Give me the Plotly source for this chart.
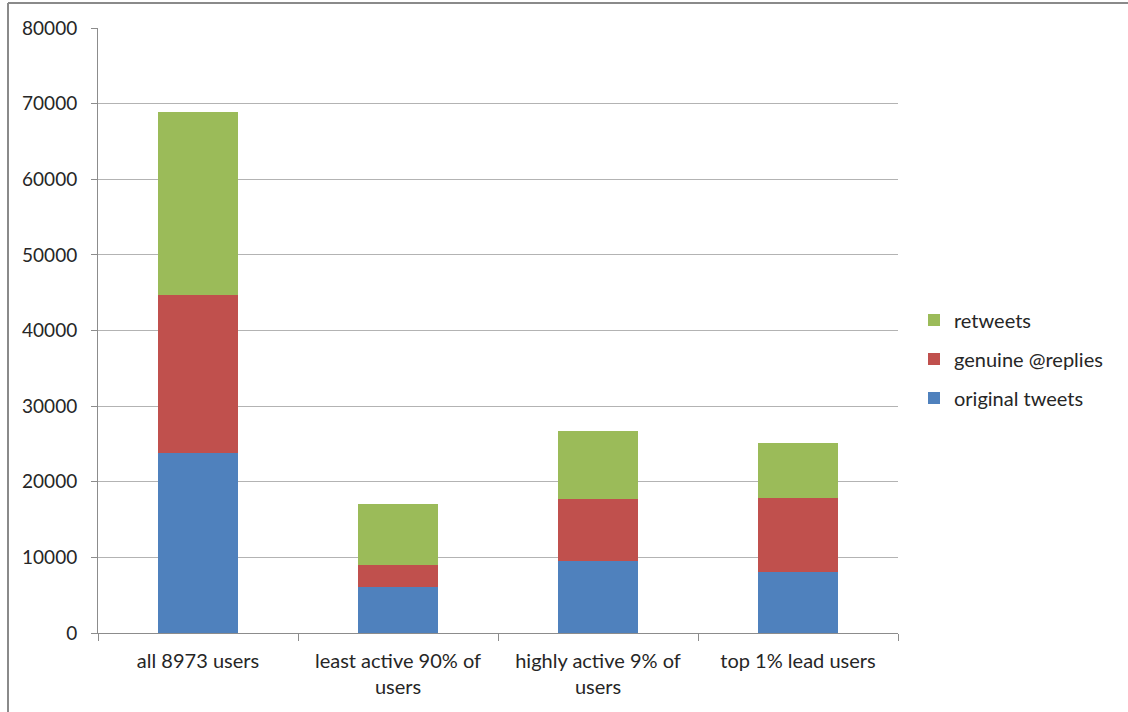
import plotly.graph_objects as go

categories = ["all 8973 users", "least active 90% of<br>users", "highly active 9% of<br>users", "top 1% lead users"]
original_tweets = [23800, 6100, 9500, 8100]
genuine_replies = [20850, 2900, 8200, 9700]
retweets = [24300, 8000, 9050, 7300]
y_ticks = [0, 10000, 20000, 30000, 40000, 50000, 60000, 70000, 80000]

FONT = "Lato, 'Open Sans', sans-serif"
TXT = "#262626"

fig = go.Figure()
series = [
    ("original tweets", original_tweets, "#4f81bd", 3),
    ("genuine @replies", genuine_replies, "#c0504d", 2),
    ("retweets", retweets, "#9bbb59", 1),
]
for name, vals, col, rank in series:
    fig.add_trace(go.Bar(
        x=categories, y=vals, name=name, legendgroup=name, legendrank=rank,
        marker=dict(color=col, line=dict(width=0)),
    ))

fig.update_layout(
    width=1128, height=712,
    barmode="stack", bargap=0.6,
    paper_bgcolor="white", plot_bgcolor="white",
    margin=dict(l=98, r=230, t=28, b=79, autoexpand=False),
    font=dict(family=FONT, size=18, color=TXT),
    showlegend=True,
    legend=dict(
        traceorder="grouped", tracegroupgap=10,
        x=1.02, xanchor="left", y=0.453, yanchor="middle",
        font=dict(family=FONT, size=20, color=TXT),
        bgcolor="rgba(0,0,0,0)",
    ),
    xaxis=dict(
        showline=True, linecolor="#8c8c8c", linewidth=1,
        ticks="outside", tickson="boundaries", ticklen=7, tickcolor="#8c8c8c",
        tickfont=dict(family=FONT, size=20, color=TXT),
        ticklabelstandoff=10,
        showgrid=False,
    ),
    yaxis=dict(
        range=[0, 80000], tickvals=y_ticks, ticktext=[str(v) for v in y_ticks],
        showline=True, linecolor="#8c8c8c", linewidth=1,
        ticks="outside", ticklen=6, tickcolor="#8c8c8c",
        showgrid=True, gridcolor="#b3b3b3", gridwidth=1,
        zeroline=False,
        tickfont=dict(family=FONT, size=19, color=TXT),
        ticklabelstandoff=10,
    ),
    shapes=[
        dict(type="line", xref="paper", yref="paper",
             x0=(8 - 98) / 800, x1=(1128 - 98) / 800,
             y0=(633 - 3) / 605, y1=(633 - 3) / 605,
             line=dict(color="#8a8a8a", width=2)),
        dict(type="line", xref="paper", yref="paper",
             x0=(8 - 98) / 800, x1=(8 - 98) / 800,
             y0=(633 - 3) / 605, y1=(633 - 712) / 605,
             line=dict(color="#8a8a8a", width=2)),
    ],
)

fig.write_html("out.html")
